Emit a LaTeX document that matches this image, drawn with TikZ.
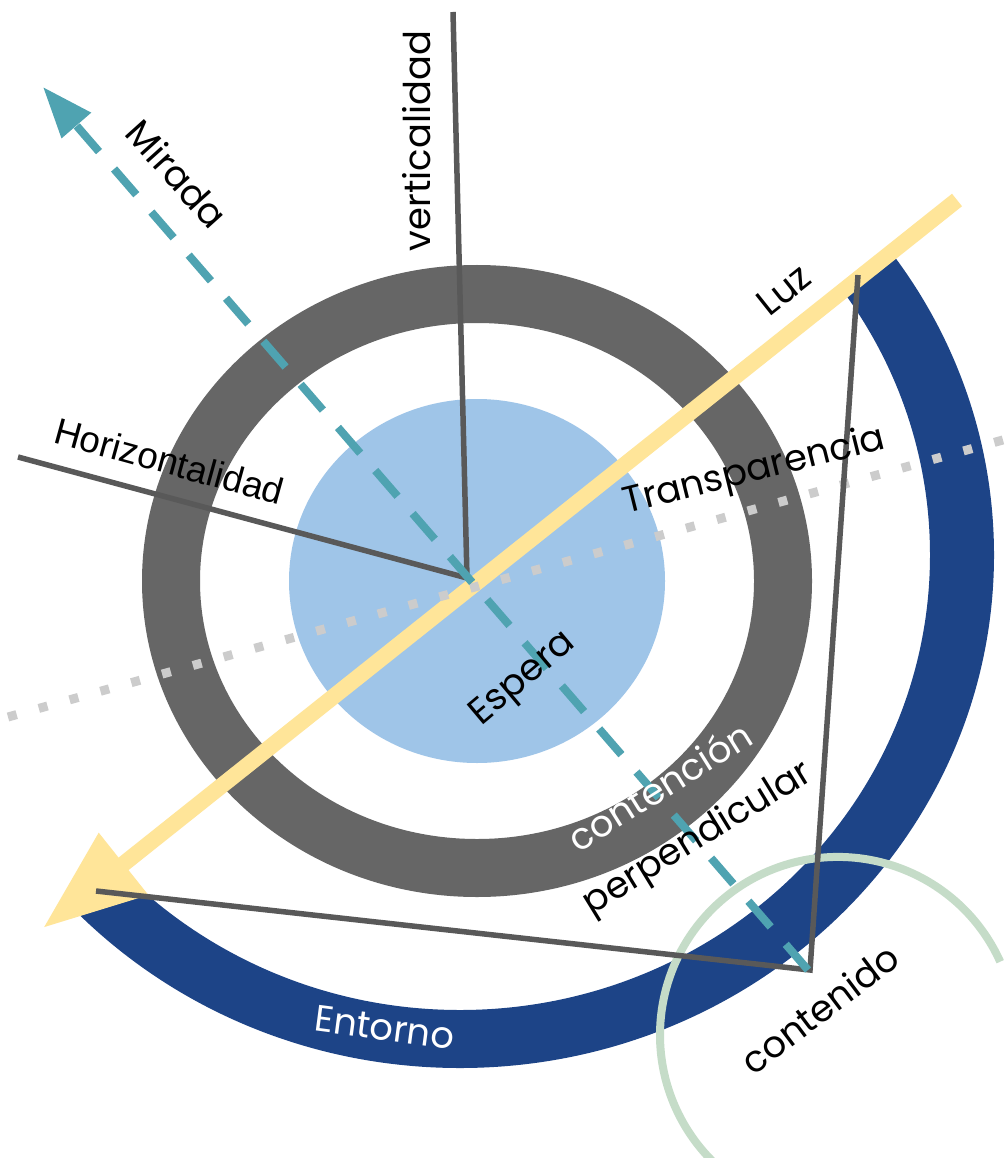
\documentclass[tikz,border=0pt]{standalone}
\usepackage{fontspec}
\setmainfont{Poppins}
\newfontfamily\arialfont{Liberation Sans}
\usetikzlibrary{arrows.meta}
\definecolor{ringgray}{HTML}{666666}
\definecolor{envblue}{HTML}{1D4487}
\definecolor{esperablue}{HTML}{9FC5E8}
\definecolor{luzyellow}{HTML}{FFE599}
\definecolor{miradateal}{HTML}{4FA3B1}
\definecolor{linegray}{HTML}{595959}
\definecolor{dotgray}{HTML}{CCCCCC}
\definecolor{sage}{HTML}{C5DCC8}
\begin{document}
\begin{tikzpicture}[x=0.02cm, y=-0.02cm,
  lbl/.style={font=\fontsize{21}{25}\selectfont, anchor=base, inner sep=0pt, text=black},
  wlbl/.style={lbl, text=white},
  axisline/.style={draw=linegray, line width=0.11cm, line cap=butt, line join=miter},
  luzarrow/.style={draw=luzyellow, line width=0.32cm, line cap=butt, -{Triangle[length=2.06cm, width=1.5cm]}, fill=luzyellow},
  miradaarrow/.style={draw=miradateal, line width=0.16cm, dash pattern=on 0.68cm off 0.46cm, -{Triangle[length=1.02cm, width=0.74cm]}},
  dotline/.style={draw=dotgray, line width=0.18cm, dash pattern=on 0.18cm off 0.46cm},
  sagearc/.style={draw=sage, line width=0.16cm}
]
\useasboundingbox (0,0) rectangle (1004,1158);
\fill[white] (0,0) rectangle (1004,1158);
\clip (0,0) rectangle (1004,1158);

% centres
\coordinate (C) at (477,581);
\coordinate (envC) at (460,555);
\coordinate (gc) at (838,1035);

% gray ring (contencion)
\fill[ringgray, even odd rule] (C) ellipse [x radius=335, y radius=316] (C) ellipse [x radius=277, y radius=258];
% espera
\fill[esperablue] (C) ellipse [x radius=188, y radius=182];
% entorno half ring
\begin{scope}
\clip (-483,1345) -- (1437,-183) -- (2201,777) -- (281,2305) -- cycle;
\fill[envblue, even odd rule] (envC) ellipse [x radius=534, y radius=513] (envC) ellipse [x radius=470, y radius=455];
\end{scope}
% green arc
\coordinate (gStart) at (1000.2,961.7);
\draw[sagearc] (gStart) arc [start angle=-24.3, end angle=-228, radius=178];

% Luz
\coordinate (luzStart) at (957,200);
\coordinate (luzTip) at (43,928);
\draw[luzarrow] (luzStart) -- (luzTip);

% dotted transparencia line
\coordinate (dA) at (8,717);
\coordinate (dB) at (1010,438);
\draw[dotline] (dA) -- (dB);

% axis lines
\coordinate (hub) at (467,578);
\coordinate (vTop) at (453,12);
\coordinate (hLeft) at (18,457);
\draw[axisline] (vTop) -- (hub);
\draw[axisline] (hLeft) -- (hub);
\coordinate (tA) at (96,891);
\coordinate (tB) at (810,970);
\coordinate (tC) at (858,275);
\draw[axisline] (tA) -- (tB) -- (tC);

% Mirada
\coordinate (mStart) at (808,970);
\coordinate (mTip) at (43,87);
\draw[miradaarrow] (mStart) -- (mTip);

% labels
\node[lbl, rotate=90] (vert) at (430,141) {verticalidad};
\node[lbl, rotate=-48] (mir) at (167,183) {Mirada};
\node[lbl, font=\arialfont\fontsize{21}{25}\selectfont, rotate=-15.4] (hor) at (166,474) {Horizontalidad};
\node[lbl, rotate=38.5] (luz) at (792,300) {Luz};
\node[lbl, rotate=14] (transp) at (757,481) {Transparencia};
\node[lbl, rotate=40] (esp) at (529,686) {Espera};
\node[wlbl, rotate=32] (cont) at (667,798) {contención};
\node[lbl, rotate=31.5] (perp) at (703,847) {perpendicular};
\node[lbl, rotate=37] (conten) at (828,1020) {contenido};
\node[wlbl, rotate=-7.5] (ent) at (383,1040) {Entorno};
\end{tikzpicture}
\end{document}
